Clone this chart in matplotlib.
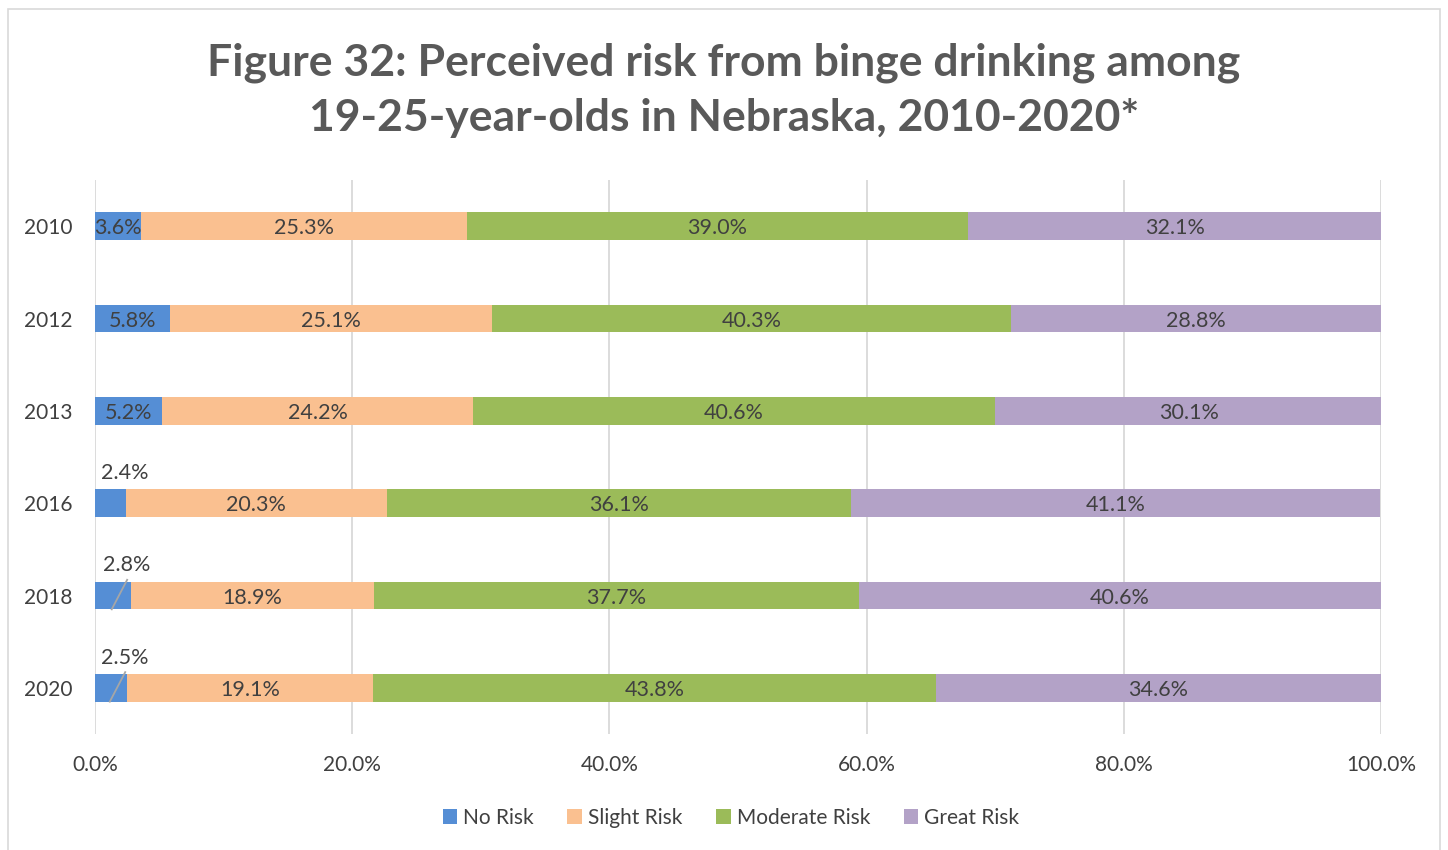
import matplotlib
matplotlib.use("Agg")
import matplotlib.pyplot as plt
from matplotlib.patches import Rectangle

plt.rcParams['font.family'] = ['Lato', 'DejaVu Sans']

years = ["2010", "2012", "2013", "2016", "2018", "2020"]
no_risk = [3.6, 5.8, 5.2, 2.4, 2.8, 2.5]
slight_risk = [25.3, 25.1, 24.2, 20.3, 18.9, 19.1]
moderate_risk = [39.0, 40.3, 40.6, 36.1, 37.7, 43.8]
great_risk = [32.1, 28.8, 30.1, 41.1, 40.6, 34.6]

series = [
    ("No Risk", no_risk, "#558ed5"),
    ("Slight Risk", slight_risk, "#fac090"),
    ("Moderate Risk", moderate_risk, "#9bbb59"),
    ("Great Risk", great_risk, "#b3a2c7"),
]
txt = "#404040"

fig = plt.figure(figsize=(14.48, 8.5), dpi=100)
ax = fig.add_axes([95 / 1448, 1 - 734 / 850, 1286 / 1448, 554 / 850])

# outer chart frame
fig.patches.append(Rectangle((8 / 1448, -0.01), 1432 / 1448, 1 - 9 / 850 + 0.01,
                             transform=fig.transFigure, fill=False,
                             edgecolor="#d9d9d9", lw=1.2))

ypos = list(range(len(years)))
left = [0.0] * len(years)
for name, vals, col in series:
    ax.barh(ypos, vals, left=left, height=0.3, color=col, label=name, zorder=3)
    for i, v in enumerate(vals):
        cx = left[i] + v / 2
        if name == "No Risk" and v < 3:
            # small slice: label above the bar
            ax.text(cx + 1.1, i - 0.35, f"{v:.1f}%", ha="center", va="center_baseline",
                    fontsize=15.5, color=txt, zorder=4)
            if i >= 4:
                ax.plot([cx + 1.1, cx - 0.1], [i - 0.17, i + 0.15],
                        color="#a6a6a6", lw=1.3, zorder=4)
        else:
            ax.text(cx, i, f"{v:.1f}%", ha="center", va="center_baseline",
                    fontsize=15.5, color=txt, zorder=4)
    left = [l + v for l, v in zip(left, vals)]

ax.set_xlim(0, 100)
ax.set_ylim(len(years) - 0.5, -0.5)
ax.set_yticks(ypos)
ax.set_yticklabels(years)
ax.set_xticks([0, 20, 40, 60, 80, 100])
ax.set_xticklabels(["0.0%", "20.0%", "40.0%", "60.0%", "80.0%", "100.0%"])
ax.tick_params(axis="both", length=0, labelsize=15, labelcolor=txt)
ax.tick_params(axis="x", pad=15)
ax.tick_params(axis="y", pad=16)
ax.grid(axis="x", color="#d9d9d9", lw=1.3, zorder=0)
for s in ax.spines.values():
    s.set_visible(False)

fig.text(0.5, 1 - 90 / 850,
         "Figure 32: Perceived risk from binge drinking among\n19-25-year-olds in Nebraska, 2010-2020*",
         ha="center", va="center", fontsize=32, fontweight="bold",
         color="#595959", linespacing=1.45)

fig.legend(loc="center", bbox_to_anchor=(731 / 1448, 1 - 818 / 850), ncol=4,
           frameon=False, fontsize=15, handlelength=0.7, handleheight=0.7,
           handletextpad=0.3, columnspacing=1.6, labelcolor=txt)

fig.savefig("out.png", dpi=100)
